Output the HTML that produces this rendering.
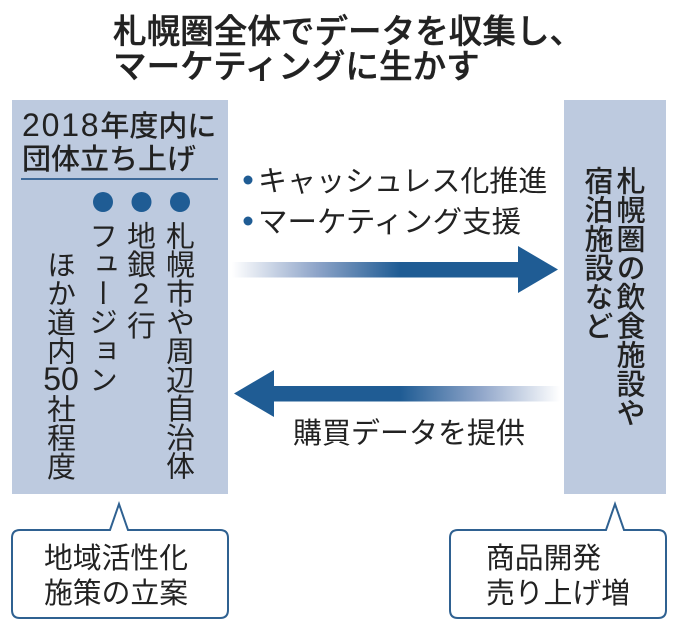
<!DOCTYPE html>
<html lang="ja">
<head>
<meta charset="utf-8">
<style>
html,body{margin:0;padding:0;background:#fff}
#c{position:relative;width:680px;height:634px;overflow:hidden;background:#fff;color:#222;font-family:"Liberation Sans","Noto Sans CJK JP",sans-serif}
.t{position:absolute;white-space:nowrap;font-family:"Noto Sans CJK JP",sans-serif;font-weight:400}
.h{line-height:36px;height:36px}
.v{writing-mode:vertical-rl;text-orientation:upright;line-height:36px;width:36px;font-size:28.8px}
.n{font-family:"Liberation Sans",sans-serif}
.y{writing-mode:horizontal-tb;display:inline-block;width:36px;text-align:center;line-height:29px;height:29px;font-size:32px;font-family:"Liberation Sans",sans-serif}
svg{position:absolute;left:0;top:0}
</style>
</head>
<body>
<div id="c">
<svg width="680" height="634" viewBox="0 0 680 634">
<defs>
<linearGradient id="g1" gradientUnits="userSpaceOnUse" x1="232" y1="0" x2="400" y2="0"><stop offset="0" stop-color="#fff"/><stop offset="0.5" stop-color="#8fa5c9"/><stop offset="1" stop-color="#1f5c94"/></linearGradient>
<linearGradient id="g2" gradientUnits="userSpaceOnUse" x1="560" y1="0" x2="400" y2="0"><stop offset="0" stop-color="#fff"/><stop offset="0.5" stop-color="#8fa5c9"/><stop offset="1" stop-color="#1f5c94"/></linearGradient>
</defs>
<rect x="12" y="100" width="216" height="394" fill="#bdcadf"/>
<rect x="564" y="100" width="102" height="394" fill="#bdcadf"/>
<rect x="21" y="178" width="197" height="2" fill="#3f6a99"/>
<circle cx="103" cy="202" r="10" fill="#1f5c94"/>
<circle cx="141.500" cy="202" r="10" fill="#1f5c94"/>
<circle cx="180" cy="202" r="10" fill="#1f5c94"/>
<circle cx="248" cy="180" r="4.500" fill="#1f5c94"/>
<circle cx="248" cy="221" r="4.500" fill="#1f5c94"/>
<rect x="232" y="262" width="287" height="15.500" fill="url(#g1)"/>
<polygon points="518,246 558,269.500 518,293" fill="#1f5c94"/>
<rect x="273" y="386" width="287" height="15.500" fill="url(#g2)"/>
<polygon points="274,370 234,393.500 274,417" fill="#1f5c94"/>
<path d="M20 530 H110 L119 504 L128 530 H220 Q228 530 228 538 V610 Q228 618 220 618 H20 Q12 618 12 610 V538 Q12 530 20 530 Z" fill="#fff" stroke="#2f6191" stroke-width="2"/>
<path d="M458 530 H606 L615 504 L624 530 H658 Q666 530 666 538 V610 Q666 618 658 618 H458 Q450 618 450 610 V538 Q450 530 458 530 Z" fill="#fff" stroke="#2f6191" stroke-width="2"/>
</svg>

<div class="t h" style="left:113px;top:11px;font-size:33.600px;font-weight:500;-webkit-text-stroke:.4px #222">札幌圏全体でデータを収集し、</div>
<div class="t h" style="left:113px;top:46px;font-size:33.600px;font-weight:500;-webkit-text-stroke:.4px #222">マーケティングに生かす</div>

<div class="t h" style="left:22px;top:106px;font-size:29px;font-weight:500"><span class="n" style="font-size:32px;letter-spacing:1.800px">2018</span>年度内に</div>
<div class="t h" style="left:22px;top:139px;font-size:29px;font-weight:500">団体立ち上げ</div>

<div class="t v" style="left:162px;top:221px">札幌市や周辺自治体</div>
<div class="t v" style="left:123px;top:221px">地銀<span class="n">2</span>行</div>
<div class="t v" style="left:85px;top:221px">フュージョン</div>
<div class="t v" style="left:43px;top:250px">ほか道内<span class="y">50</span>社程度</div>

<div class="t v" style="left:613px;top:166px;font-weight:500;font-size:29px">札幌圏の飲食施設や</div>
<div class="t v" style="left:581px;top:166px;font-weight:500;font-size:29px">宿泊施設など</div>

<div class="t h" style="left:258px;top:161px;font-size:29px">キャッシュレス化推進</div>
<div class="t h" style="left:258px;top:202px;font-size:29.500px">マーケティング支援</div>
<div class="t h" style="left:293px;top:413px;font-size:29px">購買データを提供</div>

<div class="t h" style="left:44px;top:539px;font-size:28.800px">地域活性化</div>
<div class="t h" style="left:44px;top:574px;font-size:28.800px">施策の立案</div>
<div class="t h" style="left:486px;top:539px;font-size:28.800px">商品開発</div>
<div class="t h" style="left:486px;top:574px;font-size:28.800px">売り上げ増</div>
</div>
</body>
</html>
